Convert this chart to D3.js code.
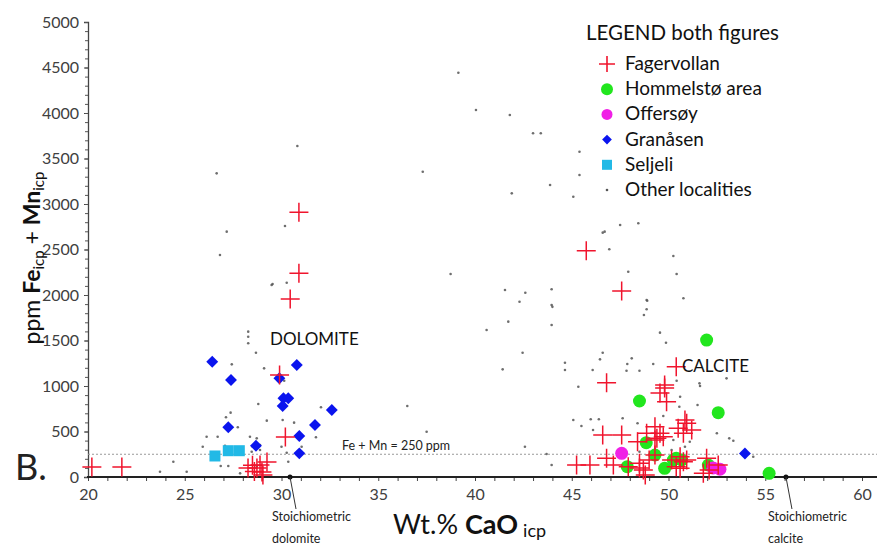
<!DOCTYPE html>
<html><head><meta charset="utf-8">
<script src="https://cdn.jsdelivr.net/npm/d3@7"></script>
<style>
html,body{margin:0;padding:0;background:#fff;}
svg text{font-family:Lato,"Open Sans",sans-serif;}
</style></head>
<body>
<svg id="chart" width="877" height="545"></svg>
<script>
// ---- data (CaO wt.%, Fe+Mn ppm) ----
const xTicks = [20,25,30,35,40,45,50,55,60];
const yTicks = [0,500,1000,1500,2000,2500,3000,3500,4000,4500,5000];
const fagervollan = [
 [20.2,110],[21.75,110],[30.9,2910],[30.9,2240],[30.45,1955],[29.9,1120],[30.2,440],
 [28.27,99],[28.73,99],[28.99,55],[29.25,165],[28.89,132],[29.04,22],[28.5,130],[28.6,60],
 [45.75,2487],[47.58,2044],[46.8,1036],[50.4,1212],[49.8,1011],[49.56,923],[49.9,827],[49.8,978],
 [46.6,461],[47.58,461],[48.4,388],[48.87,480],[49.3,553],[49.56,480],[50.5,535],[50.94,590],[50.77,480],[51.2,516],[49.3,406],[49.73,443],[50.85,626],[49.4,425],
 [45.25,132],[45.94,132],[46.8,205],[47.15,132],[47.92,113],[48.7,77],[48.5,150],[49.0,187],[50.16,187],[50.6,223],[50.94,187],[50.4,113],[51.97,205],[51.8,40],[52.57,132],[48.8,22],[49.3,242],[50.77,168],[50.6,95],[52.1,77],[48.5,99]
];
const hommelsto = [[51.97,1505],[48.5,835],[52.57,707],[48.85,377],[49.3,242],[47.87,113],[49.8,95],[50.25,187],[50.68,187],[52.06,132],[55.2,40],[50.4,205]];
const offersoy = [[47.58,260],[52.66,85],[52.3,100]];
const granasen = [[26.42,1267],[27.39,1066],[30.79,1231],[29.89,1085],[30.1,865],[30.35,865],[30.06,780],[32.6,736],[31.73,571],[27.25,546],[30.92,450],[28.68,344],[30.92,260],[53.95,258]];
const seljeli = [[26.56,231],[27.25,289],[27.82,289]];
const others = [
 [39.14,4443],[40.05,4033],[41.8,3978],[30.82,3637],[26.65,3337],[27.17,2696],[26.82,2440],[30.18,2758],[37.3,3355],[41.9,3117],[38.74,2231],[41.55,2055],[42.6,2025],[29.54,2121],[30.27,2135],
 [43.0,3777],[43.4,3777],[45.4,3575],[45.4,3319],[43.88,3209],[45.08,3080],[47.5,2769],[48.44,2788],[46.7,2696],[46.94,2502],[50.25,2429],[47.92,2256],[50.42,2231],[43.96,2063],[48.87,1945],[50.77,1964],
 [42.3,1926],[43.96,1890],[41.72,1707],[43.96,1670],[40.6,1615],[42.46,1366],[41.43,1183],[44.65,1176],[36.5,780],[37.5,498],[42.58,333],[45.34,992],[45.08,626],[43.7,253],[43.96,132],
 [46.6,2685],[48.9,1937],[48.87,1843],[48.73,1780],[44.0,1870],[49.56,1586],[49.87,1476],[46.6,1366],[44.65,1256],[46.46,1293],[48.1,1304],[47.87,1242],[49.21,1242],[46.08,1176],[47.83,1168],[48.5,1168],[51.6,1029],[53.0,1084],[50.42,1058],
 [45.5,560],[45.98,634],[46.4,634],[46.1,516],[47.63,645],[48.4,590],[49.73,670],[50.56,772],[50.6,882],[51.5,791],[50.25,407],[51.1,388],[52.5,480],[53.14,425],[53.35,399],[54.38,223],[48.5,278],[50.16,297],[50.85,333],[51.63,1000],
 [29.49,2110],[28.28,1597],[28.28,1542],[28.28,1469],[28.68,1366],[27.43,1238],[29.1,1194],[30.14,1058],[28.8,802],[32.04,766],[27.37,707],[27.13,656],[29.24,619],[30.06,626],[30.65,597],[27.74,546],[31.78,436],[26.13,443],[26.7,443],[28.37,443],[28.72,425],[28.51,333],[25.93,333],[27.08,344],[28.89,352],[30.0,333],[31.04,333],[26.86,121],[27.25,121],[27.86,40],[30.35,168],[28.72,113],[24.41,168],[23.72,58],[25.1,58],[28.46,278],[28.89,297],[30.27,267]
];
const stoichiometric = [[30.44,0,"Stoichiometric","dolomite"],[56.07,0,"Stoichiometric","calcite"]];
const threshold = 250;
const legendLabels = ["Fagervollan","Hommelstø area","Offersøy","Granåsen","Seljeli","Other localities"];

// ---- setup ----
const svg = d3.select("#chart");
const x = d3.scaleLinear().domain([20,60]).range([88,862]);
const y = d3.scaleLinear().domain([0,5000]).range([477,22]);
const RED="#f0142d", GREEN="#22e61e", MAG="#f020e6", BLUE="#0a14ee", CYAN="#22b9e6", GRAY="#555";

// y axis
const yAxis = svg.append("g").attr("transform","translate(88,0)")
  .call(d3.axisLeft(y).tickValues(yTicks).tickSize(4).tickPadding(5).tickFormat(d3.format("d")));
yAxis.select(".domain").attr("stroke","#444").attr("stroke-width",1.3);
yAxis.selectAll(".tick line").attr("stroke","#444");
yAxis.selectAll("text").attr("font-size",16).attr("fill","#404040");
svg.append("g").attr("transform","translate(88,0)")
  .call(d3.axisLeft(y).tickValues(d3.range(0,5001,100)).tickSize(3).tickFormat(""))
  .call(g=>g.select(".domain").remove())
  .selectAll("line").attr("stroke","#555");

// x axis
const xAxis = svg.append("g").attr("transform","translate(0,477)")
  .call(d3.axisBottom(x).tickValues(xTicks).tickSize(0).tickPadding(12));
xAxis.select(".domain").remove();
xAxis.selectAll("text").attr("font-size",16).attr("fill","#404040");
svg.append("g").attr("transform","translate(0,477)")
  .call(d3.axisBottom(x).tickValues(d3.range(20,61,1)).tickSize(4).tickFormat(""))
  .call(g=>g.select(".domain").remove())
  .selectAll("line").attr("stroke","#444");
svg.append("line").attr("x1",87).attr("x2",877).attr("y1",y(0)).attr("y2",y(0))
  .attr("stroke","#222").attr("stroke-width",2);

// threshold line
svg.append("line").attr("x1",x(20)).attr("x2",877).attr("y1",y(threshold)).attr("y2",y(threshold))
  .attr("stroke","#999").attr("stroke-width",1).attr("stroke-dasharray","2,2");
svg.append("text").attr("x",342).attr("y",450).attr("font-size",12.5).attr("fill","#222")
  .text("Fe + Mn = 250 ppm");

// others
svg.append("g").selectAll("circle").data(others).join("circle")
  .attr("cx",d=>x(d[0])).attr("cy",d=>y(d[1])).attr("r",1.3).attr("fill",GRAY).attr("opacity",0.85);

// seljeli squares
svg.append("g").selectAll("rect").data(seljeli).join("rect")
  .attr("x",d=>x(d[0])-5.5).attr("y",d=>y(d[1])-5.5).attr("width",11).attr("height",11).attr("fill",CYAN);

// hommelsto
svg.append("g").selectAll("circle").data(hommelsto).join("circle")
  .attr("cx",d=>x(d[0])).attr("cy",d=>y(d[1])).attr("r",6.5).attr("fill",GREEN);
// offersoy
svg.append("g").selectAll("circle").data(offersoy).join("circle")
  .attr("cx",d=>x(d[0])).attr("cy",d=>y(d[1])).attr("r",6.5).attr("fill",MAG);
// granasen diamonds
const diamond = d3.symbol().type(d3.symbolDiamond2).size(90);
svg.append("g").selectAll("path").data(granasen).join("path")
  .attr("transform",d=>`translate(${x(d[0])},${y(d[1])})`).attr("d",diamond).attr("fill",BLUE);
// fagervollan crosses
const cross = s=>`M${-s},0H${s}M0,${-s}V${s}`;
svg.append("g").selectAll("path").data(fagervollan).join("path")
  .attr("transform",d=>`translate(${x(d[0])},${y(d[1])})`).attr("d",cross(9.5))
  .attr("stroke",RED).attr("stroke-width",1.5).attr("fill","none");

// stoichiometric markers
const st = svg.append("g").selectAll("g").data(stoichiometric).join("g");
st.append("circle").attr("cx",d=>x(d[0])).attr("cy",d=>y(d[1])).attr("r",2.5).attr("fill","#111");
st.append("line").attr("x1",d=>x(d[0])).attr("y1",d=>y(d[1])).attr("x2",d=>x(d[0])+6).attr("y2",d=>y(d[1])+32)
  .attr("stroke","#333").attr("stroke-width",1);
st.append("text").attr("x",d=>x(d[0])-18).attr("y",521).attr("font-size",12.5).attr("fill","#222").text(d=>d[2]);
st.append("text").attr("x",d=>x(d[0])-18).attr("y",543).attr("font-size",12.5).attr("fill","#222").text(d=>d[3]);

// annotations
svg.append("text").attr("x",270).attr("y",345).attr("font-size",17).attr("fill","#111").text("DOLOMITE");
svg.append("text").attr("x",682).attr("y",372).attr("font-size",17).attr("fill","#111").text("CALCITE");
svg.append("text").attr("x",15).attr("y",480).attr("font-size",36).attr("fill","#222").text("B.");

// axis titles
const yl = svg.append("text").attr("transform","translate(40,258) rotate(-90)")
  .attr("text-anchor","middle").attr("font-size",23).attr("fill","#111");
yl.append("tspan").text("ppm ");
yl.append("tspan").attr("font-weight","bold").text("Fe");
yl.append("tspan").attr("font-size",15).attr("dy",4).text("icp");
yl.append("tspan").attr("dy",-4).text(" + ");
yl.append("tspan").attr("font-weight","bold").text("Mn");
yl.append("tspan").attr("font-size",15).attr("dy",4).text("icp");

const xl = svg.append("text").attr("x",393).attr("y",534).attr("font-size",27).attr("fill","#111");
xl.append("tspan").text("Wt.% ");
xl.append("tspan").attr("font-weight","bold").text("CaO");
xl.append("tspan").attr("font-size",18).attr("dx",5).attr("dy",3).text("icp");

// legend
const lg = svg.append("g");
lg.append("text").attr("x",586).attr("y",40).attr("font-size",20.5).attr("fill","#111").text("LEGEND both figures");
const rowY = i=>64+i*25.2;
legendLabels.forEach((t,i)=>{
  lg.append("text").attr("x",625).attr("y",rowY(i)+6).attr("font-size",19).attr("fill","#111").text(t);
});
lg.append("path").attr("transform",`translate(607,${rowY(0)})`).attr("d",cross(8)).attr("stroke",RED).attr("stroke-width",1.6);
lg.append("circle").attr("cx",607).attr("cy",rowY(1)).attr("r",6).attr("fill",GREEN);
lg.append("circle").attr("cx",607).attr("cy",rowY(2)).attr("r",5.5).attr("fill",MAG);
lg.append("path").attr("transform",`translate(607,${rowY(3)})`).attr("d",d3.symbol().type(d3.symbolDiamond2).size(60)).attr("fill",BLUE);
lg.append("rect").attr("x",602).attr("y",rowY(4)-5).attr("width",10).attr("height",10).attr("fill",CYAN);
lg.append("circle").attr("cx",607).attr("cy",rowY(5)).attr("r",1.3).attr("fill",GRAY);
</script>
</body></html>
